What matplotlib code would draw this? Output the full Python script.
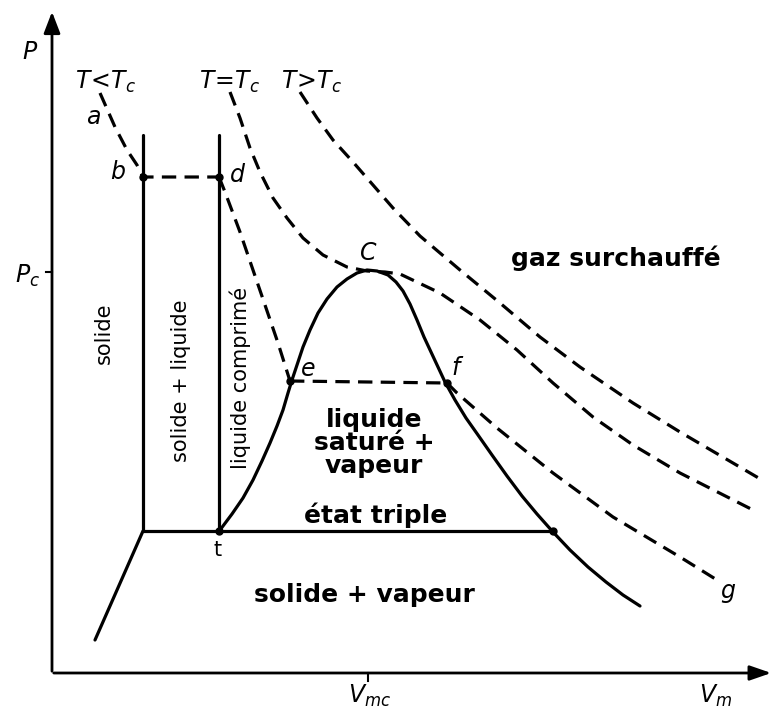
#diagramme_P_V
import numpy as np
import matplotlib.pyplot as plt

plt.rcParams['font.family'] = ['DejaVu Sans']
plt.rcParams['mathtext.fontset'] = 'dejavusans'

# points (coordonnees en pixels, y vers le bas)
dome_x = [220, 232, 243, 253, 262, 270, 277, 283, 288, 292, 297, 303, 310, 318,
          327, 337, 347, 357, 367,
          377, 388, 396, 403, 410, 417, 424, 431, 438, 445, 455, 466, 478, 492,
          507, 522, 537, 553, 570, 588, 606, 623, 640]
dome_y = [530, 514, 498, 480, 461, 443, 426, 410, 393, 380, 365, 347, 330, 313,
          299, 287, 279, 273, 270,
          271, 275, 282, 291, 304, 320, 337, 352, 367, 382, 400, 418, 435, 455,
          476, 496, 514, 532, 550, 567, 582, 595, 606]

# isotherme T < Tc : a -> b -> d, d -> e, e -> f, f -> g
ab_x = [100, 115, 127, 137, 143, 219]
ab_y = [93, 127, 150, 165, 177, 177]
de_x = [219, 225, 240, 253, 265, 278, 290]
de_y = [177, 192, 232, 270, 305, 343, 381]
ef_x = [290, 447]
ef_y = [381, 383]
fg_x = [447, 457, 497, 553, 613, 680, 717]
fg_y = [383, 393, 428, 473, 517, 557, 580]

# isotherme critique
iso2_x = [230, 240, 250, 260, 273, 287, 303, 323, 347, 367, 385, 400, 440,
          480, 517, 553, 593, 633, 680, 753]
iso2_y = [92, 118, 148, 172, 198, 218, 238, 255, 267, 271, 272, 274, 293,
          320, 350, 383, 417, 445, 473, 510]

# isotherme T > Tc
iso3_x = [300, 317, 333, 353, 373, 393, 420, 460, 500, 540, 580, 633, 680, 762]
iso3_y = [92, 118, 140, 162, 185, 208, 236, 270, 303, 337, 367, 403, 432, 480]

# lignes solides
fus1_x, fus1_y = [143, 143], [135, 531]
fus2_x, fus2_y = [219, 219], [135, 531]
trip_x, trip_y = [143, 553], [531, 531]
sub_x, sub_y = [143, 95], [531, 640]

pts_x = [143, 219, 290, 447, 219, 553]
pts_y = [177, 177, 381, 383, 531, 531]

fig = plt.figure(figsize=(7.74, 7.10), dpi=100)
ax = fig.add_axes([0, 0, 1, 1])
ax.set_xlim(0, 774)
ax.set_ylim(710, 0)
ax.axis('off')

k = 'black'
# axes avec fleches
ax.annotate('', xy=(52, 9), xytext=(52, 674),
            arrowprops=dict(arrowstyle='-|>,head_length=1.3,head_width=0.5', color=k, lw=2))
ax.annotate('', xy=(774, 673), xytext=(51, 673),
            arrowprops=dict(arrowstyle='-|>,head_length=1.3,head_width=0.45', color=k, lw=2))
ax.plot([46, 52], [272, 272], color=k, lw=1.5)
ax.plot([368, 368], [673, 681], color=k, lw=1.5)

ax.plot(dome_x, dome_y, color=k, lw=2.3, solid_capstyle='round', solid_joinstyle='round')
for xs, ys in [(fus1_x, fus1_y), (fus2_x, fus2_y), (trip_x, trip_y), (sub_x, sub_y)]:
    ax.plot(xs, ys, color=k, lw=2.3, solid_capstyle='round')

for xs, ys in [(ab_x, ab_y), (de_x, de_y), (ef_x, ef_y), (fg_x, fg_y),
               (iso2_x, iso2_y), (iso3_x, iso3_y)]:
    ax.plot(xs, ys, color=k, lw=2.3, linestyle=(0, (4.5, 2.6)),
            dash_joinstyle='round')

ax.plot(pts_x, pts_y, 'o', color=k, ms=5)

it = dict(fontsize=17, ha='center', va='center', color=k)
ax.text(30, 52, r'$P$', **it)
ax.text(28, 276, r'$P_c$', **it)
ax.text(370, 696, r'$V_{mc}$', **it)
ax.text(716, 696, r'$V_m$', **it)
ax.text(106, 82, r'$T\!<\!T_c$', **it)
ax.text(230, 82, r'$T\!=\!T_c$', **it)
ax.text(312, 82, r'$T\!>\!T_c$', **it)
ax.text(93, 117, r'$a$', **it)
ax.text(118, 172, r'$b$', **it)
ax.text(238, 175, r'$d$', **it)
ax.text(368, 253, r'$C$', **it)
ax.text(308, 369, r'$e$', **it)
ax.text(458, 368, r'$f$', **it)
ax.text(728, 593, r'$g$', **it)
ax.text(218, 550, 't', fontsize=15, ha='center', va='center', color=k)

tx = dict(fontsize=18, ha='center', va='center', color=k, fontweight='bold')
ax.text(616, 258, 'gaz surchauffé', **tx)
ax.text(374, 443, 'liquide\nsaturé +\nvapeur', linespacing=0.95, **tx)
ax.text(376, 515, 'état triple', **tx)
ax.text(364, 595, 'solide + vapeur', **tx)

rt = dict(fontsize=15, ha='center', va='center', color=k, rotation=90)
ax.text(104, 333, 'solide', **rt)
ax.text(181, 381, 'solide + liquide', **rt)
ax.text(240, 378, 'liquide comprimé', **rt)

plt.savefig('out.png', dpi=100)
